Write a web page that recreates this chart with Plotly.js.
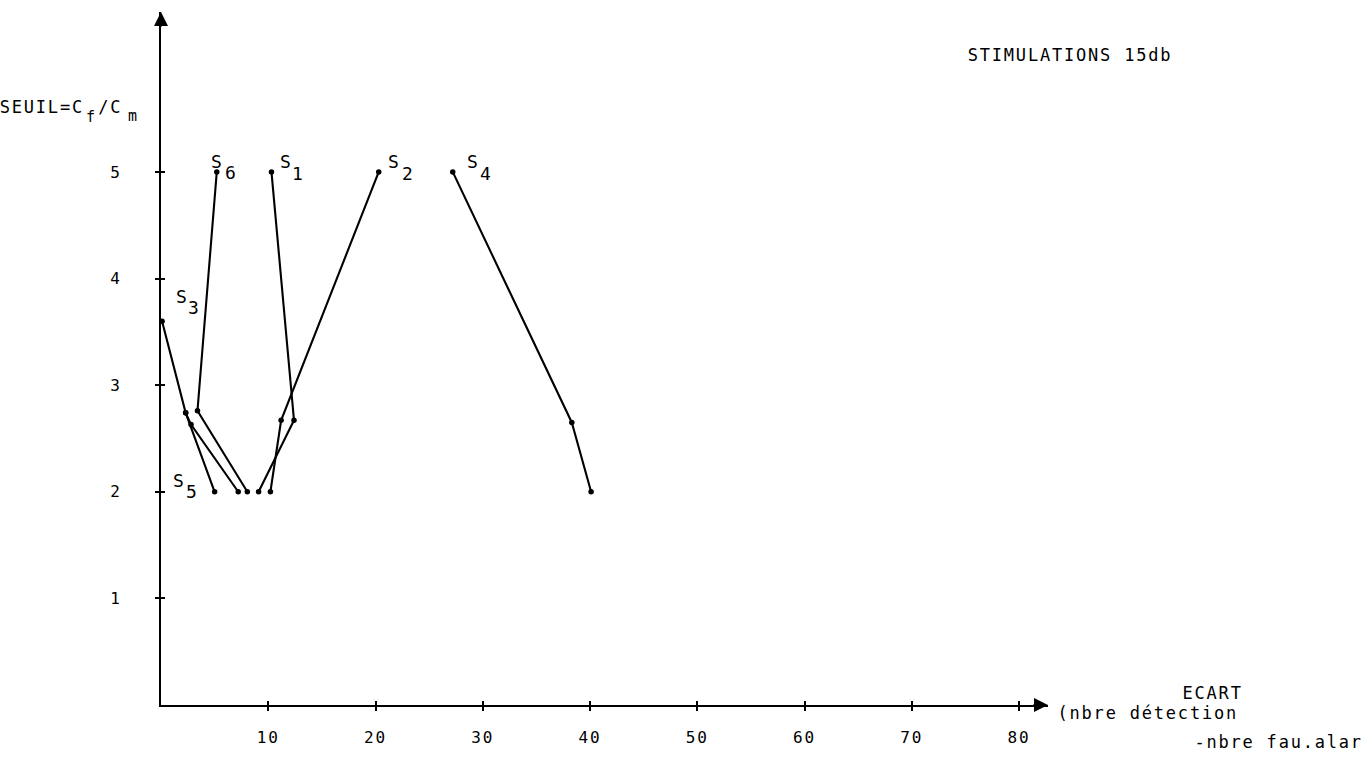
<!DOCTYPE html>
<html>
<head>
<meta charset="utf-8">
<script src="https://cdn.plot.ly/plotly-3.0.1.min.js"></script>
<style>
html,body{margin:0;padding:0;background:#fff;overflow:hidden;}
#chart{width:1372px;height:762px;}
.main-svg text{letter-spacing:1.8px;}
</style>
</head>
<body>
<div id="chart"></div>
<script>
// ---- data ----
const xTickVals = [10, 20, 30, 40, 50, 60, 70, 80];
const xTickText = ["10", "20", "30", "40", "50", "60", "70", "80"];
const yTickVals = [1, 2, 3, 4, 5];
const yTickText = ["1", "2", "3", "4", "5"];

const seriesNames = ["1", "2", "3", "4", "5", "6"];
const s1x = [10.3, 12.4, 9.1];   const s1y = [5, 2.67, 2];
const s2x = [20.3, 11.2, 10.2];  const s2y = [5, 2.67, 2];
const s3x = [0.1, 2.3, 5.0];     const s3y = [3.6, 2.74, 2];
const s4x = [27.2, 38.3, 40.1];  const s4y = [5, 2.65, 2];
const s5x = [2.3, 2.8, 7.2];     const s5y = [2.74, 2.63, 2];
const s6x = [5.2, 3.4, 8.05];    const s6y = [5, 2.76, 2];

const title = "STIMULATIONS 15db";
const yTitleParts = ["SEUIL=C", "f", "/C", "m"];
const xTitle1 = "ECART";
const xTitle2 = "(nbre détection";
const xTitle3 = "-nbre fau.alar";

// ---- drawing ----
const FONT = "DejaVu Sans Mono";
const BLACK = "#000";
const xs = [s1x, s2x, s3x, s4x, s5x, s6x];
const ys = [s1y, s2y, s3y, s4y, s5y, s6y];
const X_MAX = 82.7, Y_MAX = 6.5;

// plot area in pixels (used only to place free text in paper units)
const L = 161, W = 887, B = 705, H = 693;
const px = v => (v - L) / W;
const py = v => (B - v) / H;

const traces = xs.map((x, i) => ({
  type: "scatter", mode: "lines+markers", x: x, y: ys[i],
  name: "S" + seriesNames[i],
  line: {color: BLACK, width: 2.1},
  marker: {color: BLACK, size: 5.5},
  hoverinfo: "skip"
}));
// helper trace so the overlay axes (inner half of the tick crosses) are drawn
traces.push({type: "scatter", x: [null], y: [null], xaxis: "x2", yaxis: "y2", showlegend: false, hoverinfo: "skip"});

function txt(x, y, text, size, extra) {
  return Object.assign({x: x, y: y, xref: "paper", yref: "paper", text: text, showarrow: false,
    xanchor: "center", yanchor: "middle", font: {family: FONT, size: size, color: BLACK}}, extra || {});
}

// series labels: series index, point index, pixel shifts for "S" and the digit
const labelSpec = [
  {i: 5, p: 0, sx: 1,  sy: 10, dx: 15, dy: -1},
  {i: 0, p: 0, sx: 15, sy: 10, dx: 27, dy: -2},
  {i: 1, p: 0, sx: 16, sy: 10, dx: 30, dy: -2},
  {i: 3, p: 0, sx: 21, sy: 10, dx: 34, dy: -2},
  {i: 2, p: 0, sx: 20, sy: 25, dx: 32, dy: 14},
];
const ann = [];
const LBL = 18;
labelSpec.forEach(l => {
  const x = xs[l.i][l.p], y = ys[l.i][l.p];
  ann.push({x: x, y: y, xref: "x", yref: "y", text: "S", showarrow: false, xshift: l.sx, yshift: l.sy, font: {family: FONT, size: LBL, color: BLACK}});
  ann.push({x: x, y: y, xref: "x", yref: "y", text: seriesNames[l.i], showarrow: false, xshift: l.dx, yshift: l.dy, font: {family: FONT, size: LBL, color: BLACK}});
});
// S5 label sits beside the axis at level 2
ann.push({x: 0, y: 2, xref: "x", yref: "y", text: "S", showarrow: false, xshift: 18, yshift: 11, font: {family: FONT, size: LBL, color: BLACK}});
ann.push({x: 0, y: 2, xref: "x", yref: "y", text: seriesNames[4], showarrow: false, xshift: 31, yshift: 0, font: {family: FONT, size: LBL, color: BLACK}});

// titles (centre anchored)
ann.push(txt(px(1070), py(55), title, 17));
ann.push(txt(px(42), py(107), yTitleParts[0], 17));
ann.push(txt(px(91), py(117), yTitleParts[1], 15));
ann.push(txt(px(110), py(107), yTitleParts[2], 17));
ann.push(txt(px(133), py(116), yTitleParts[3], 15));
ann.push(txt(px(1212), py(693), xTitle1, 17));
ann.push(txt(px(1148), py(713), xTitle2, 17));
ann.push(txt(px(1205), py(742), xTitle3, 17, {xanchor: "left"}));

// arrow heads at the ends of both axes
ann.push({x: 0, y: Y_MAX, xref: "x", yref: "y", text: "", showarrow: true, ax: 0, ay: 16, arrowhead: 2, arrowsize: 1.4, arrowwidth: 2, arrowcolor: BLACK});
ann.push({x: X_MAX, y: 0, xref: "x", yref: "y", text: "", showarrow: true, ax: -16, ay: 0, arrowhead: 2, arrowsize: 1.4, arrowwidth: 2, arrowcolor: BLACK});

const axisCommon = {
  showgrid: false, zeroline: false, showline: true, linecolor: BLACK, linewidth: 2,
  ticks: "outside", ticklen: 4, tickwidth: 2, tickcolor: BLACK,
  tickfont: {family: FONT, size: 16, color: BLACK}, fixedrange: true
};

const layout = {
  width: 1372, height: 762,
  margin: {l: L, r: 1372 - L - W, t: 12, b: 762 - B, pad: 0},
  paper_bgcolor: "#fff", plot_bgcolor: "#fff",
  showlegend: false,
  font: {family: FONT, color: BLACK},
  xaxis: Object.assign({}, axisCommon, {range: [0, X_MAX], tickvals: xTickVals, ticktext: xTickText, ticklabelstandoff: 13}),
  yaxis: Object.assign({}, axisCommon, {range: [0, Y_MAX], tickvals: yTickVals, ticktext: yTickText, ticklabelstandoff: 30}),
  xaxis2: {overlaying: "x", anchor: "y", side: "bottom", range: [0, X_MAX], tickvals: xTickVals, ticks: "inside", ticklen: 4, tickwidth: 2, tickcolor: BLACK, showticklabels: false, showline: false, showgrid: false, zeroline: false},
  yaxis2: {overlaying: "y", anchor: "x", side: "left", range: [0, Y_MAX], tickvals: yTickVals, ticks: "inside", ticklen: 4, tickwidth: 2, tickcolor: BLACK, showticklabels: false, showline: false, showgrid: false, zeroline: false},
  annotations: ann
};

Plotly.newPlot("chart", traces, layout, {staticPlot: true, displayModeBar: false});
</script>
</body>
</html>
